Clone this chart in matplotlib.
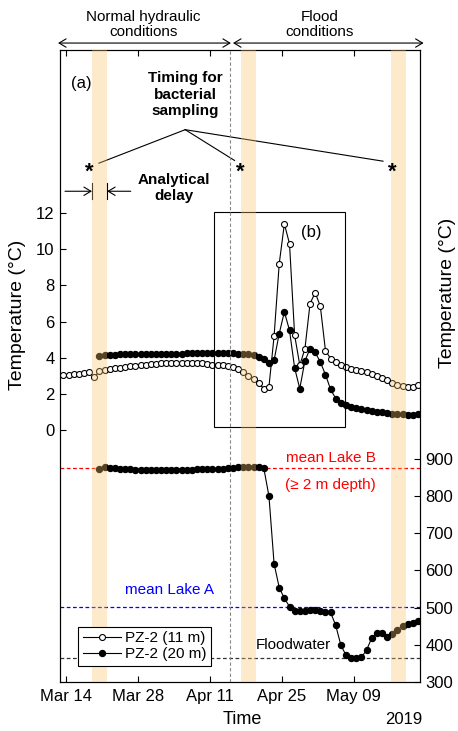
import matplotlib
matplotlib.use('Agg')
import matplotlib.pyplot as plt
from matplotlib.patches import Rectangle
import numpy as np

plt.rcParams['font.family'] = ['Liberation Sans', 'DejaVu Sans']

# days counted from Mar 14 2019 (daily values plotted at noon)
tick_days = [0, 14, 28, 42, 56]
tick_labels = ['Mar 14', 'Mar 28', 'Apr 11', 'Apr 25', 'May 09']

# PZ-2 (11 m) temperature, first day = Mar 13
t11_first = -1
t11 = [3.05, 3.08, 3.10, 3.13, 3.17, 3.20, 2.95, 3.25, 3.32, 3.38,
       3.42, 3.46, 3.50, 3.53, 3.57, 3.60, 3.63, 3.66, 3.68, 3.70,
       3.72, 3.73, 3.74, 3.74, 3.74, 3.73, 3.72, 3.70, 3.66, 3.63,
       3.60, 3.58, 3.55, 3.50, 3.40, 3.22, 3.02, 2.85, 2.60, 2.30,
       2.40, 5.20, 9.20, 11.40, 10.30, 5.25, 3.60, 4.50, 7.00, 7.60,
       6.85, 4.40, 3.96, 3.77, 3.63, 3.50, 3.40, 3.35, 3.28, 3.20,
       3.09, 3.00, 2.89, 2.76, 2.60, 2.52, 2.43, 2.40, 2.40, 2.49]

# PZ-2 (20 m) temperature, first day = Mar 20
t20_first = 6
t20 = [4.12, 4.15, 4.17, 4.18, 4.19, 4.20, 4.21, 4.21, 4.22, 4.22,
       4.23, 4.23, 4.23, 4.24, 4.24, 4.24, 4.24, 4.25, 4.25, 4.25,
       4.25, 4.25, 4.25, 4.25, 4.25, 4.25, 4.25, 4.24, 4.23, 4.20,
       4.14, 4.05, 3.95, 3.72, 3.87, 5.34, 6.54, 5.52, 3.44, 2.30,
       3.83, 4.50, 4.30, 3.77, 3.07, 2.26, 1.75, 1.51, 1.38, 1.29,
       1.23, 1.18, 1.14, 1.09, 1.03, 0.99, 0.96, 0.92, 0.88, 0.88,
       0.86, 0.86, 0.88]

# PZ-2 (20 m) lower panel (right axis), first day = Mar 20
c20 = [872, 878, 876, 875, 874, 873, 872, 871, 871, 870,
       870, 869, 869, 869, 870, 870, 870, 871, 871, 872,
       872, 873, 873, 874, 874, 875, 876, 877, 877, 878,
       878, 878, 875, 800, 618, 554, 525, 503, 492, 492,
       491, 493, 495, 490, 488, 487, 452, 399, 372, 365,
       364, 366, 386, 418, 433, 433, 422, 428, 440, 451,
       456, 459, 463]

# reference levels (right axis)
lake_b = 876
lake_a = 502
floodwater = 365

# bacterial sampling (asterisks) and analytical delay bands
sample_days = [4.5, 33.9, 63.6]
band_start = [5.05, 34.0, 63.2]
band_end = [8.0, 37.0, 66.2]
flood_start = 31.9

band_col = '#F9C36B'

fig = plt.figure(figsize=(4.58, 7.31), dpi=100)
ax = fig.add_axes([60/458, 1-682/731, 360/458, 632/731])
ax2 = ax.twinx()

x11 = np.arange(t11_first, t11_first+len(t11)) + 0.5
x20 = np.arange(t20_first, t20_first+len(t20)) + 0.5
xc = np.arange(t20_first, t20_first+len(c20)) + 0.5

l11, = ax.plot(x11, t11, '-o', color='black', lw=0.8, ms=4.3,
               mfc='white', mec='black', mew=0.8, label='PZ-2 (11 m)', zorder=3)
l20, = ax.plot(x20, t20, '-o', color='black', lw=0.8, ms=4.3,
               mfc='black', mec='black', label='PZ-2 (20 m)', zorder=4)
ax2.plot(xc, c20, '-o', color='black', lw=0.8, ms=4.3, mfc='black', mec='black', zorder=4)

ax2.axhline(lake_b, color='red', ls=(0, (3, 2)), lw=0.9, zorder=2)
ax2.axhline(lake_a, color='blue', ls=(0, (3, 2)), lw=0.9, zorder=2)
ax2.axhline(floodwater, color='#333333', ls=(0, (3, 2)), lw=0.9, zorder=2)
ax2.axvline(flood_start, color='#888888', ls=(0, (3, 2)), lw=0.8, zorder=2)

for s, e in zip(band_start, band_end):
    ax2.axvspan(s, e, color=band_col, alpha=0.35, lw=0, zorder=6)

# zoom box (b)
ax.add_patch(Rectangle((28.8, 0.2), 25.5, 11.85, fill=False, ec='black', lw=0.8, zorder=5))
ax.text(47.8, 10.9, '(b)', fontsize=12, ha='center', va='center')
ax.text(2.9, 19.15, '(a)', fontsize=12, ha='center', va='center')

# sampling annotation
ax.text(23.2, 18.54, 'Timing for\nbacterial\nsampling', fontsize=11, fontweight='bold',
        ha='center', va='center', linespacing=1.2)
for xe, ye in zip([6.4, 32.8, 61.7], [14.75, 14.9, 14.86]):
    ax.plot([23.2, xe], [16.6, ye], color='black', lw=0.8)
for d in sample_days:
    ax2.text(d, 13.94, '*', fontsize=16, fontweight='bold', ha='center', va='baseline',
             transform=ax.transData, zorder=7)

ax.text(21.0, 13.4, 'Analytical\ndelay', fontsize=11, fontweight='bold',
        ha='center', va='center', linespacing=1.2)
ax.annotate('', xy=(band_start[0], 13.2), xytext=(-0.2, 13.2),
            arrowprops=dict(arrowstyle='->,head_length=0.5,head_width=0.3', lw=0.8,
                            shrinkA=0, shrinkB=0))
ax.annotate('', xy=(band_end[0], 13.2), xytext=(12.6, 13.2),
            arrowprops=dict(arrowstyle='->,head_length=0.5,head_width=0.3', lw=0.8,
                            shrinkA=0, shrinkB=0))
ax.plot([band_start[0]]*2, [12.75, 13.65], color='black', lw=0.8)
ax.plot([band_end[0]]*2, [12.75, 13.65], color='black', lw=0.8)

# conditions arrows above the frame
arr = dict(arrowstyle='<->,head_length=0.5,head_width=0.3', lw=0.8, shrinkA=0, shrinkB=0)
ax.annotate('', xy=(-1.55, 1.011), xytext=(32.1, 1.011), xycoords=('data', 'axes fraction'),
            arrowprops=arr, annotation_clip=False)
ax.annotate('', xy=(32.5, 1.011), xytext=(69.6, 1.011), xycoords=('data', 'axes fraction'),
            arrowprops=arr, annotation_clip=False)
ax.text(15.1, 1.041, 'Normal hydraulic\nconditions', transform=ax.get_xaxis_transform(),
        fontsize=11, ha='center', va='center', linespacing=1.1)
ax.text(49.4, 1.041, 'Flood\nconditions', transform=ax.get_xaxis_transform(),
        fontsize=11, ha='center', va='center', linespacing=1.1)

# level labels
ax2.text(51.5, 903, 'mean Lake B', color='red', fontsize=11, ha='center', va='center')
ax2.text(51.5, 830, '(\u2265 2 m depth)', color='red', fontsize=11, ha='center', va='center')
ax2.text(20.1, 547, 'mean Lake A', color='blue', fontsize=11, ha='center', va='center')
ax2.text(44.3, 400, 'Floodwater', color='black', fontsize=11, ha='center', va='center')

ax.set_xlim(-1.17, 68.9)
ax.set_ylim(-13.9, 21)
ax2.set_ylim(300, 2000)
ax.set_xticks(tick_days)
ax.set_xticklabels(tick_labels)
ax.set_yticks(range(0, 13, 2))
ax2.set_yticks(range(300, 901, 100))
ax.tick_params(axis='x', direction='in', length=4, width=0.8, labelsize=12, top=True, pad=5)
ax.tick_params(axis='y', direction='in', length=4, width=0.8, labelsize=12, pad=4)
ax2.tick_params(axis='y', direction='in', length=4, width=0.8, labelsize=12, pad=4)
for a in (ax, ax2):
    for sp in a.spines.values():
        sp.set_linewidth(0.8)

fig.text(18/458, 1-315/731, 'Temperature (\u00b0C)', rotation=90, fontsize=14,
         ha='center', va='center')
fig.text(447/458, 1-293/731, 'Temperature (\u00b0C)', rotation=90, fontsize=14,
         ha='center', va='center')
fig.text(242/458, 1-719/731, 'Time', fontsize=13, ha='center', va='center')
fig.text(404/458, 1-719/731, '2019', fontsize=12, ha='center', va='center')

leg = ax2.legend(handles=[l11, l20], loc='lower left', bbox_to_anchor=(0.05, 0.0253),
                 borderaxespad=0, fontsize=11, numpoints=1, handlelength=2.5,
                 handletextpad=0.3, labelspacing=0.15, borderpad=0.3,
                 fancybox=False, framealpha=1, edgecolor='black')
leg.get_frame().set_linewidth(0.8)
leg.set_zorder(7)

fig.savefig('out.png', dpi=100)
